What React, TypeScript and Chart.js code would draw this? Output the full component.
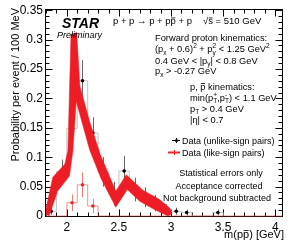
import React, { useEffect, useRef } from "react";
import { Chart, registerables } from "chart.js";

Chart.register(...registerables);

const FONT = '"Liberation Sans", Arial, Helvetica, sans-serif';

// axis tick labels
const xTickValues = [2, 2.5, 3, 3.5, 4];
const yTickValues = [0, 0.05, 0.1, 0.15, 0.2, 0.25, 0.3, 0.35];

// Data (unlike-sign pairs), bin centers in GeV, bin width 0.1 GeV
const unlikeBins = [1.85, 1.95, 2.05, 2.15, 2.25, 2.35, 2.45, 2.55, 2.65, 2.75, 2.85, 2.95, 3.05, 3.15, 3.25, 3.35, 3.45];
const unlikeValues = [0.008, 0.076, 0.149, 0.23, 0.141, 0.075, 0.038, 0.0765, 0.045, 0.032, 0.022, 0.011, 0.008, 0.006, 0, 0, 0.006];
const unlikeErrors = [0.006, 0.02, 0.03, 0.035, 0.027, 0.025, 0.02, 0.026, 0.02, 0.017, 0.014, 0.009, 0.006, 0.005, 0, 0, 0.005];

// Data (like-sign pairs)
const likeBins = [1.85, 1.95, 2.05, 2.15, 2.25, 2.35, 2.45, 2.55, 2.65, 2.75, 2.85, 2.95, 3.05, 3.15, 3.25, 3.35, 3.45, 3.55, 3.65, 3.75, 3.85, 3.95, 4.05];
const likeValues = [0, 0, 0.0225, 0.053, 0.017, 0, 0, 0, 0, 0, 0, 0, 0, 0, 0, 0, 0, 0, 0, 0, 0, 0, 0];
const likeErrors = [0, 0, 0.014, 0.021, 0.012, 0, 0, 0, 0, 0, 0, 0, 0, 0, 0, 0, 0, 0, 0, 0, 0, 0, 0];

// red band (upper edge left->right, lower edge left->right)
const bandUpperX = [1.79, 1.865, 1.98, 2.01, 2.04, 2.095, 2.125, 2.22, 2.32, 2.47, 2.57, 2.73, 2.89, 2.99, 3.01];
const bandUpperY = [0.004, 0.066, 0.088, 0.111, 0.309, 0.312, 0.221, 0.16, 0.105, 0.042, 0.07, 0.044, 0.028, 0.013, 0.004];
const bandLowerX = [1.83, 1.91, 2.025, 2.058, 2.09, 2.22, 2.33, 2.47, 2.58, 2.7, 2.85, 2.97];
const bandLowerY = [0, 0.042, 0.068, 0.111, 0.195, 0.112, 0.063, 0.015, 0.045, 0.025, 0.01, 0];

const BIN_HALF = 0.05;

function histSteps(bins: number[], vals: number[]) {
  const pts: { x: number; y: number }[] = [{ x: bins[0] - BIN_HALF, y: 0 }];
  bins.forEach((c, i) => pts.push({ x: c - BIN_HALF, y: vals[i] }));
  pts.push({ x: bins[bins.length - 1] + BIN_HALF, y: 0 });
  return pts;
}

function pointsOf(bins: number[], vals: number[]) {
  return bins.map((c, i) => ({ x: c, y: vals[i] > 0 ? vals[i] : NaN }));
}

type Seg = { t: string; sub?: string; sup?: string; bar?: boolean };

function richWidth(ctx: CanvasRenderingContext2D, segs: Seg[], size: number) {
  let w = 0;
  for (const s of segs) {
    ctx.font = `${size}px ${FONT}`;
    w += ctx.measureText(s.t).width;
    if (s.sub || s.sup) {
      ctx.font = `${size * 0.7}px ${FONT}`;
      w += Math.max(s.sub ? ctx.measureText(s.sub).width : 0, s.sup ? ctx.measureText(s.sup).width : 0);
    }
  }
  return w;
}

function drawRich(ctx: CanvasRenderingContext2D, x: number, y: number, segs: Seg[], size: number) {
  let cx = x;
  ctx.textAlign = "left";
  ctx.textBaseline = "alphabetic";
  for (const s of segs) {
    ctx.font = `${size}px ${FONT}`;
    ctx.fillText(s.t, cx, y);
    const w = ctx.measureText(s.t).width;
    if (s.bar) {
      ctx.fillRect(cx + w * 0.1, y - size * 0.68, w * 0.8, Math.max(0.8, size * 0.07));
    }
    cx += w;
    if (s.sub || s.sup) {
      ctx.font = `${size * 0.7}px ${FONT}`;
      let sw = 0;
      if (s.sub) {
        ctx.fillText(s.sub, cx, y + size * 0.28);
        sw = Math.max(sw, ctx.measureText(s.sub).width);
      }
      if (s.sup) {
        ctx.fillText(s.sup, cx, y - size * 0.42);
        sw = Math.max(sw, ctx.measureText(s.sup).width);
      }
      cx += sw;
    }
  }
}

const decor = {
  id: "decor",
  beforeDatasetsDraw(chart: any) {
    const { ctx, chartArea: a, scales } = chart;
    const xs = scales.x;
    const ys = scales.y;
    ctx.save();
    const drawErr = (bins: number[], vals: number[], errs: number[], color: string) => {
      ctx.strokeStyle = color;
      ctx.lineWidth = 1;
      bins.forEach((c, i) => {
        if (!(vals[i] > 0) || !(errs[i] > 0)) return;
        const px = Math.round(xs.getPixelForValue(c)) + 0.5;
        ctx.beginPath();
        ctx.moveTo(px, ys.getPixelForValue(vals[i] + errs[i]));
        ctx.lineTo(px, ys.getPixelForValue(Math.max(0, vals[i] - errs[i])));
        ctx.stroke();
      });
    };
    drawErr(unlikeBins, unlikeValues, unlikeErrors, "#666");
    drawErr(likeBins, likeValues, likeErrors, "rgba(230,90,90,0.8)");

    ctx.strokeStyle = "#000";
    ctx.lineWidth = 1;
    const L = Math.round(a.left) - 0.5;
    const R = Math.round(a.right) + 0.5;
    const T = Math.round(a.top) - 0.5;
    const B = Math.round(a.bottom) + 0.5;
    ctx.strokeRect(L, T, R - L, B - T);
    ctx.beginPath();
    for (let v = 1.8; v <= 4.07; v += 0.1) {
      const vv = Math.round(v * 10) / 10;
      const major = Math.abs(vv * 2 - Math.round(vv * 2)) < 1e-6;
      const len = major ? 7 : 4;
      const px = Math.round(xs.getPixelForValue(vv)) + 0.5;
      ctx.moveTo(px, B);
      ctx.lineTo(px, B - len);
      ctx.moveTo(px, T);
      ctx.lineTo(px, T + len);
    }
    for (let k = 0; k <= 35; k++) {
      const v = k / 100;
      const major = k % 5 === 0;
      const len = major ? 7 : 4;
      const py = Math.round(ys.getPixelForValue(v)) + 0.5;
      ctx.moveTo(L, py);
      ctx.lineTo(L + len, py);
      ctx.moveTo(R, py);
      ctx.lineTo(R - len, py);
    }
    ctx.stroke();
    ctx.restore();
  },
  afterDraw(chart: any) {
    const { ctx } = chart;
    ctx.save();
    ctx.fillStyle = "#000";
    ctx.strokeStyle = "#000";

    ctx.save();
    ctx.translate(16, 8);
    ctx.rotate(-Math.PI / 2);
    ctx.font = `11px ${FONT}`;
    ctx.textAlign = "right";
    ctx.textBaseline = "middle";
    ctx.fillText("Probability per event / 100 MeV", 0, 0);
    ctx.restore();

    const xt: Seg[] = [{ t: "m(p" }, { t: "p", bar: true }, { t: ") [GeV]" }];
    const xw = richWidth(ctx, xt, 11);
    drawRich(ctx, 284 - xw, 237.5, xt, 11);

    ctx.font = `italic bold 14px ${FONT}`;
    ctx.textAlign = "left";
    ctx.textBaseline = "alphabetic";
    ctx.fillText("STAR", 62, 28);
    ctx.font = `italic 9px ${FONT}`;
    ctx.fillText("Preliminary", 57, 38);

    const fs = 9;
    drawRich(ctx, 113, 24, [{ t: "p + p \u2192 p + p" }, { t: "p", bar: true }, { t: " + p" }], 9.5);
    drawRich(ctx, 203, 24, [{ t: "\u221A" }, { t: "s", bar: true }, { t: " = 510 GeV" }], 9.5);
    drawRich(ctx, 155, 40.5, [{ t: "Forward proton kinematics:" }], 9.3);
    drawRich(ctx, 155, 52, [{ t: "(p", sub: "x" }, { t: " + 0.6)", sup: "2" }, { t: " + p", sub: "y", sup: "2" }, { t: " < 1.25 GeV", sup: "2" }], 9.3);
    drawRich(ctx, 155, 63.5, [{ t: "0.4 GeV < |p", sub: "y" }, { t: "| < 0.8 GeV" }], 9.3);
    drawRich(ctx, 155, 74, [{ t: "p", sub: "x" }, { t: " > -0.27 GeV" }], 9.3);
    drawRich(ctx, 190, 89.5, [{ t: "p, " }, { t: "p", bar: true }, { t: " kinematics:" }], 9.3);
    drawRich(ctx, 190, 100.5, [{ t: "min(p", sub: "T", sup: "+" }, { t: ",p", sub: "T", sup: "-" }, { t: ") < 1.1 GeV" }], 9.3);
    drawRich(ctx, 190, 111.5, [{ t: "p", sub: "T" }, { t: " > 0.4 GeV" }], 9.3);
    drawRich(ctx, 190, 122.5, [{ t: "|\u03B7| < 0.7" }], 9.3);

    ctx.lineWidth = 1;
    ctx.strokeStyle = "#000";
    ctx.beginPath();
    ctx.moveTo(172, 140.5);
    ctx.lineTo(180, 140.5);
    ctx.moveTo(176.5, 138);
    ctx.lineTo(176.5, 143);
    ctx.stroke();
    ctx.beginPath();
    ctx.arc(176.5, 140.5, 1.6, 0, Math.PI * 2);
    ctx.fill();
    ctx.strokeStyle = "#e8282d";
    ctx.fillStyle = "#e8282d";
    ctx.lineWidth = 2;
    ctx.beginPath();
    ctx.moveTo(168, 152.5);
    ctx.lineTo(180, 152.5);
    ctx.stroke();
    ctx.lineWidth = 1;
    ctx.beginPath();
    ctx.moveTo(174.5, 150);
    ctx.lineTo(174.5, 155);
    ctx.stroke();
    ctx.fillStyle = "#000";
    drawRich(ctx, 182, 143.5, [{ t: "Data (unlike-sign pairs)" }], fs);
    drawRich(ctx, 182, 155.5, [{ t: "Data (like-sign pairs)" }], fs);

    ctx.font = `${fs}px ${FONT}`;
    ctx.textAlign = "center";
    ctx.textBaseline = "alphabetic";
    ctx.fillText("Statistical errors only", 221, 175.5);
    ctx.fillText("Acceptance corrected", 219, 188.5);
    ctx.fillText("Not background subtracted", 217, 200.5);
    ctx.restore();
  },
};

export default function App() {
  const ref = useRef<HTMLCanvasElement | null>(null);
  useEffect(() => {
    if (!ref.current) return;
    const bandPolygon = [
      ...bandUpperX.map((x, i) => ({ x, y: bandUpperY[i] })),
      ...bandLowerX.map((x, i) => ({ x, y: bandLowerY[i] })).reverse(),
    ];
    const chart = new Chart(ref.current, {
      type: "line",
      data: {
        datasets: [
          {
            label: "band",
            data: bandPolygon,
            fill: "shape",
            backgroundColor: "#ee1d25",
            borderColor: "#ee1d25",
            borderWidth: 0.5,
            pointRadius: 0,
            tension: 0,
          },
          {
            label: "Data (unlike-sign pairs)",
            data: pointsOf(unlikeBins, unlikeValues),
            showLine: false,
            pointRadius: 1.8,
            pointBackgroundColor: "#000",
            pointBorderWidth: 0,
          },
          {
            label: "Data (like-sign pairs)",
            data: pointsOf(likeBins, likeValues),
            showLine: false,
            pointRadius: 1.8,
            pointBackgroundColor: "#e8282d",
            pointBorderWidth: 0,
          },
          {
            label: "like hist",
            data: histSteps(likeBins, likeValues),
            stepped: "before",
            borderColor: "rgba(232,60,60,0.55)",
            borderWidth: 1,
            pointRadius: 0,
            fill: false,
            clip: { left: 0, right: 0, top: 0, bottom: 2 } as any,
          },
          {
            label: "unlike hist",
            data: histSteps(unlikeBins, unlikeValues),
            stepped: "before",
            borderColor: "#c4c4c4",
            borderWidth: 1,
            pointRadius: 0,
            fill: false,
          },
        ],
      },
      options: {
        animation: false,
        responsive: false,
        devicePixelRatio: 1,
        parsing: true,
        layout: { padding: { top: 8, right: 9, left: 0, bottom: 0 } },
        plugins: { legend: { display: false }, tooltip: { enabled: false } },
        scales: {
          x: {
            type: "linear",
            min: 1.8,
            max: 4.065,
            grid: { display: false, drawTicks: false },
            border: { display: false },
            afterBuildTicks: (s: any) => {
              s.ticks = xTickValues.map((v) => ({ value: v }));
            },
            afterFit: (s: any) => {
              s.height = 33;
            },
            ticks: {
              autoSkip: false,
              maxRotation: 0,
              padding: 4,
              color: "#000",
              font: { family: FONT, size: 12 },
              callback: (v: any) => String(v),
            },
          },
          y: {
            type: "linear",
            min: 0,
            max: 0.35,
            grid: { display: false, drawTicks: false },
            border: { display: false },
            afterBuildTicks: (s: any) => {
              s.ticks = yTickValues.map((v) => ({ value: v }));
            },
            afterFit: (s: any) => {
              s.width = 46;
            },
            ticks: {
              autoSkip: false,
              padding: 3,
              color: "#000",
              font: { family: FONT, size: 12 },
              callback: (v: any) => String(+Number(v).toFixed(2)),
            },
          },
        },
      },
      plugins: [decor],
    });
    return () => chart.destroy();
  }, []);
  return (
    <div style={{ position: "absolute", left: 0, top: 0, width: 291, height: 249, background: "#fff" }}>
      <canvas ref={ref} width={291} height={249} style={{ display: "block", width: 291, height: 249 }} />
    </div>
  );
}
